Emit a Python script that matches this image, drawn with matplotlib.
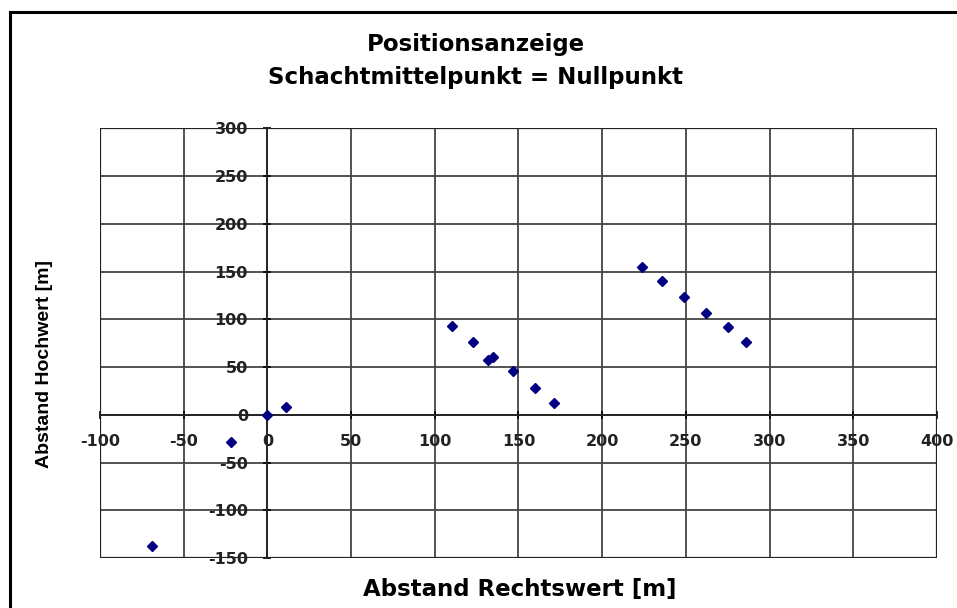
import matplotlib.pyplot as plt
from matplotlib.patches import Rectangle

# Rechtswert / Hochwert relative to shaft centre [m]
rechtswert = [-69, -22, 0, 11, 110, 123, 132, 135, 147, 160, 171, 224, 236, 249, 262, 275, 286]
hochwert = [-137, -28, 0, 8, 93, 76, 57, 61, 46, 28, 12, 155, 140, 123, 107, 92, 76]

x_ticks = [-100, -50, 0, 50, 100, 150, 200, 250, 300, 350, 400]
y_ticks = [-150, -100, -50, 0, 50, 100, 150, 200, 250, 300]

plt.rcParams['font.family'] = ['DejaVu Sans']
plt.rcParams['axes.unicode_minus'] = False

fig = plt.figure(figsize=(9.57, 6.08), dpi=100)
ax = fig.add_axes([0.1045, 0.082, 0.8745, 0.707])

# outer chart frame (only left and top are visible in the original)
fig.patches.append(Rectangle((0.0105, -0.05), 1.2, 1.03, transform=fig.transFigure,
                             fill=False, edgecolor='black', linewidth=2.2))

ax.plot(rechtswert, hochwert, linestyle='none', marker='D', markersize=5.5,
        color='#000080', zorder=5)

ax.set_xlim(-100, 400)
ax.set_ylim(-150, 300)
ax.set_xticks(x_ticks)
ax.set_yticks(y_ticks)
ax.grid(True, color='#444444', linewidth=1.3)
ax.set_axisbelow(True)

ax.spines['left'].set_position(('data', 0))
ax.spines['bottom'].set_position(('data', 0))
ax.spines['top'].set_visible(False)
ax.spines['right'].set_visible(False)
for s in ('left', 'bottom'):
    ax.spines[s].set_color('#222222')
    ax.spines[s].set_linewidth(1.3)
# plot area border
ax.add_patch(Rectangle((0, 0), 1, 1, transform=ax.transAxes, fill=False,
                       edgecolor='#222222', linewidth=1.6, zorder=6))

ax.tick_params(axis='both', direction='inout', length=6, width=1.2, labelsize=11.5)
ax.tick_params(axis='x', pad=11)
ax.tick_params(axis='y', pad=11)
for lbl in ax.get_xticklabels() + ax.get_yticklabels():
    lbl.set_fontweight('bold')
    lbl.set_color('#222222')

fig.text(0.497, 0.926, 'Positionsanzeige', ha='center', va='center',
         fontsize=16.5, fontweight='bold')
fig.text(0.497, 0.873, 'Schachtmittelpunkt = Nullpunkt', ha='center', va='center',
         fontsize=16.5, fontweight='bold')
fig.text(0.543, 0.03, 'Abstand Rechtswert [m]', ha='center', va='center',
         fontsize=16.5, fontweight='bold')
fig.text(0.047, 0.401, 'Abstand Hochwert [m]', ha='center', va='center',
         rotation=90, fontsize=14, fontweight='bold', family='Liberation Sans')

plt.savefig('out.png', dpi=100)
